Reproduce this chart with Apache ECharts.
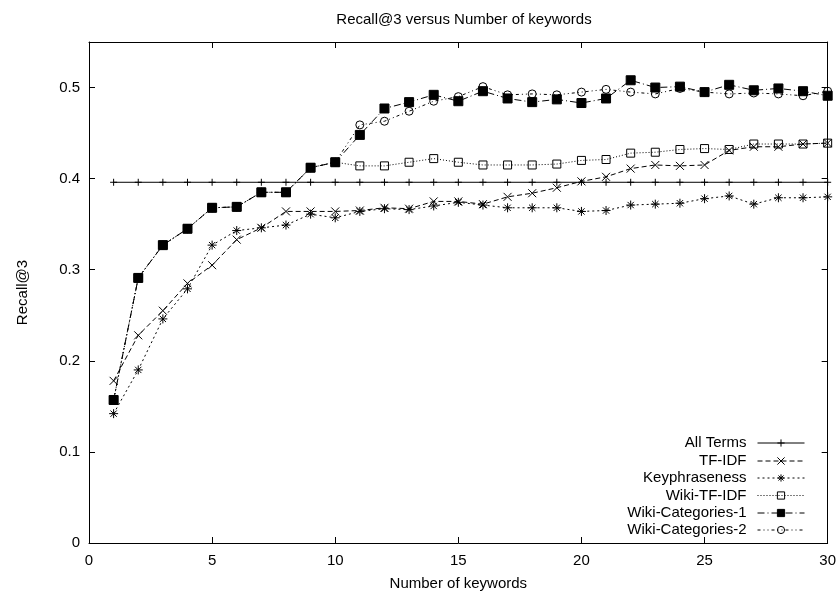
<!DOCTYPE html>
<html>
<head>
<meta charset="utf-8">
<script src="https://cdn.jsdelivr.net/npm/echarts@6/dist/echarts.min.js"></script>
<style>
  html, body { margin: 0; padding: 0; background: #fff; }
  #chart { width: 839px; height: 596px; }
</style>
</head>
<body>
<div id="chart"></div>
<script>
const keywords = [1, 2, 3, 4, 5, 6, 7, 8, 9, 10, 11, 12, 13, 14, 15, 16, 17, 18, 19, 20, 21, 22, 23, 24, 25, 26, 27, 28, 29, 30];

const allTerms = new Array(30).fill(0.396);
const tfIdf = [0.178, 0.228, 0.255, 0.285, 0.305, 0.333, 0.346, 0.364, 0.364, 0.364,
    0.365, 0.368, 0.367, 0.375, 0.375, 0.372, 0.380, 0.384, 0.390, 0.397,
    0.402, 0.411, 0.415, 0.414, 0.415, 0.431, 0.435, 0.435, 0.438, 0.439];
const keyphraseness = [0.142, 0.190, 0.246, 0.279, 0.327, 0.343, 0.346, 0.349, 0.361, 0.357,
    0.364, 0.367, 0.366, 0.370, 0.374, 0.371, 0.368, 0.368, 0.368, 0.364,
    0.365, 0.371, 0.372, 0.373, 0.378, 0.381, 0.372, 0.379, 0.379, 0.380];
const wikiTfIdf = [0.157, 0.291, 0.327, 0.345, 0.368, 0.369, 0.385, 0.385, 0.412, 0.418,
    0.414, 0.414, 0.418, 0.422, 0.418, 0.415, 0.415, 0.415, 0.416, 0.420,
    0.421, 0.428, 0.429, 0.432, 0.433, 0.432, 0.438, 0.438, 0.438, 0.439];
const wikiCat1 = [0.157, 0.291, 0.327, 0.345, 0.368, 0.369, 0.385, 0.385, 0.412, 0.418,
    0.448, 0.477, 0.484, 0.492, 0.485, 0.496, 0.488, 0.484, 0.487, 0.483,
    0.488, 0.508, 0.500, 0.501, 0.495, 0.503, 0.497, 0.499, 0.496, 0.491];
const wikiCat2 = [0.157, 0.291, 0.327, 0.345, 0.368, 0.369, 0.385, 0.385, 0.412, 0.418,
    0.459, 0.463, 0.474, 0.485, 0.490, 0.501, 0.492, 0.493, 0.492, 0.495,
    0.498, 0.495, 0.493, 0.499, 0.495, 0.493, 0.494, 0.493, 0.491, 0.496];

const xTicks = [0, 5, 10, 15, 20, 25, 30];
const yTicks = [0, 0.1, 0.2, 0.3, 0.4, 0.5];

const FONT = 'Liberation Sans';
const plusPath = 'path://M5 0 L5 10 M0 5 L10 5';
const crossPath = 'path://M0 0 L10 10 M10 0 L0 10';
const starPath = 'path://M5 0 L5 10 M0 5 L10 5 M1.5 1.5 L8.5 8.5 M8.5 1.5 L1.5 8.5';

const pairs = (vals) => keywords.map((k, i) => [k, vals[i]]);

const seriesDefs = [
    { name: 'All Terms', data: allTerms, symbol: plusPath, size: 7, dash: 'solid', fill: 'rgba(0,0,0,0)' },
    { name: 'TF-IDF', data: tfIdf, symbol: crossPath, size: 8, dash: [5, 3], fill: 'rgba(0,0,0,0)' },
    { name: 'Keyphraseness', data: keyphraseness, symbol: starPath, size: 9, dash: [2, 3], fill: 'rgba(0,0,0,0)' },
    { name: 'Wiki-TF-IDF', data: wikiTfIdf, symbol: 'rect', size: 8, dash: [1, 2], fill: 'rgba(0,0,0,0)' },
    { name: 'Wiki-Categories-1', data: wikiCat1, symbol: 'rect', size: 9, dash: [7, 3, 1, 3], fill: '#000' },
    { name: 'Wiki-Categories-2', data: wikiCat2, symbol: 'circle', size: 8, dash: [3, 3, 1, 3, 1, 3], fill: 'rgba(0,0,0,0)' },
];

const legendCenters = [443, 461, 478, 495.5, 513, 530];

const chart = echarts.init(document.getElementById('chart'), null, { renderer: 'canvas' });

const axisCommon = {
    axisLine: { show: true, onZero: false, lineStyle: { color: '#000', width: 1 } },
    axisTick: { show: true, inside: true, length: 6, lineStyle: { color: '#000' } },
    splitLine: { show: false },
};

chart.setOption({
    animation: false,
    backgroundColor: '#fff',
    title: {
        text: 'Recall@3 versus Number of keywords',
        left: 459,
        textAlign: 'center',
        top: 7,
        textStyle: { fontFamily: FONT, fontSize: 15, fontWeight: 'normal', color: '#000' },
    },
    legend: seriesDefs.map((s, i) => ({
        data: [s.name],
        right: 34,
        top: legendCenters[i] - 8,
        align: 'right',
        padding: 0,
        itemWidth: 47,
        itemHeight: 9,
        selectedMode: false,
        lineStyle: { width: 1 },
        itemStyle: { borderWidth: 1 },
        textStyle: { fontFamily: FONT, fontSize: 15, color: '#000', lineHeight: 16, padding: [0, 6, 0, 0] },
    })),
    grid: { left: 89, right: 9, top: 42, bottom: 53 },
    xAxis: [
        {
            type: 'value', min: 0, max: 30, interval: 5,
            name: 'Number of keywords', nameLocation: 'middle', nameGap: 33,
            nameTextStyle: { fontFamily: FONT, fontSize: 15, color: '#000' },
            axisLabel: {
                fontFamily: FONT, fontSize: 15, color: '#000', margin: 10,
                formatter: (v) => (xTicks.includes(v) ? String(v) : ''),
            },
            ...axisCommon,
        },
        {
            type: 'value', min: 0, max: 30, interval: 5, position: 'top',
            axisLabel: { show: false },
            ...axisCommon,
        },
    ],
    yAxis: [
        {
            type: 'value', min: 0, max: 0.55, interval: 0.1,
            name: 'Recall@3', nameLocation: 'middle', nameGap: 59,
            nameTextStyle: { fontFamily: FONT, fontSize: 15, color: '#000' },
            axisLabel: {
                fontFamily: FONT, fontSize: 15, color: '#000', margin: 9,
                showMaxLabel: false,
                formatter: (v) => {
                    const t = yTicks.find((y) => Math.abs(y - v) < 1e-9);
                    return t === undefined ? '' : String(t);
                },
            },
            ...axisCommon,
        },
        {
            type: 'value', min: 0, max: 0.55, interval: 0.1, position: 'right',
            axisLabel: { show: false },
            ...axisCommon,
        },
    ],
    series: seriesDefs.map((s, i) => ({
        name: s.name,
        type: 'line',
        data: pairs(s.data),
        symbol: s.symbol,
        symbolSize: s.size,
        showAllSymbol: true,
        lineStyle: { color: '#000', width: 1, type: s.dash },
        itemStyle: { color: s.fill, borderColor: '#000', borderWidth: 1 },
        emphasis: { disabled: true },
        z: 2 + i,
    })),
});
</script>
</body>
</html>
